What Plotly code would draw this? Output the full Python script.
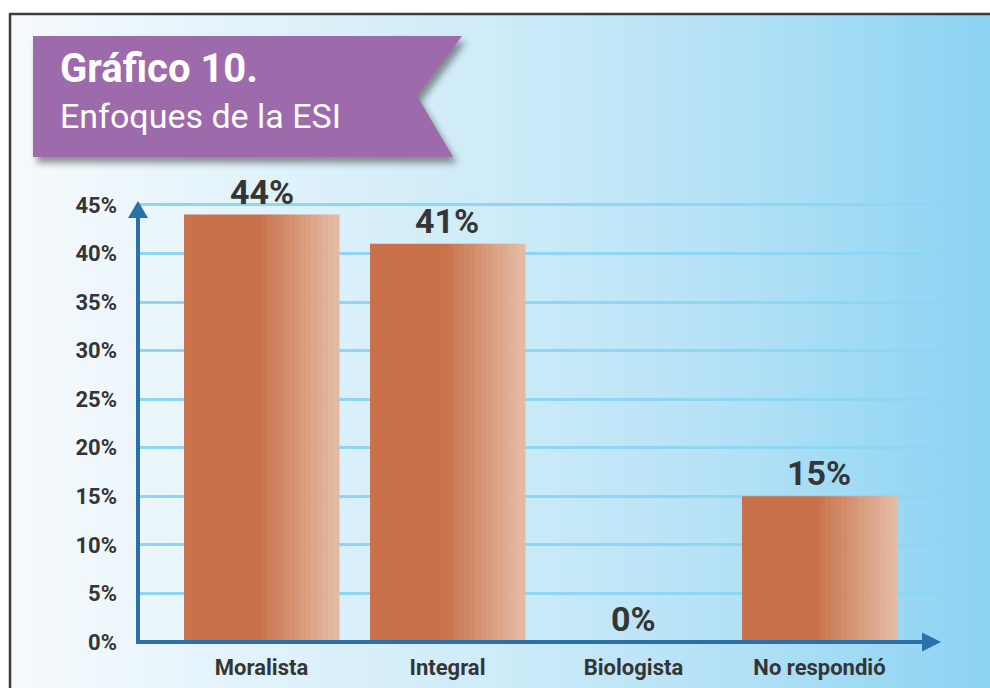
import base64
import plotly.graph_objects as go

# ---- data ----
categories = ["Moralista", "Integral", "Biologista", "No respondió"]
values = [44, 41, 0, 15]
y_ticks = [0, 5, 10, 15, 20, 25, 30, 35, 40, 45]
y_ticktext = [f"{t}%" for t in y_ticks]
title_main = "Gráfico 10."
title_sub = "Enfoques de la ESI"

# ---- geometry (pixels) ----
W, H = 990, 688
ML, MR, MT, MB = 138, 45, 200, 46
PW, PH = W - ML - MR, H - MT - MB


def px(x):
    return (x - ML) / PW


def py(y):
    return (H - MB - y) / PH


AXIS = "#2a70ab"
GRID = "#8fd5f4"
TXT = "#353535"

svg = f"""<svg xmlns='http://www.w3.org/2000/svg' width='{W}' height='{H}' viewBox='0 0 {W} {H}'>
<defs>
<linearGradient id='g' x1='0' y1='0' x2='1' y2='0'>
<stop offset='0' stop-color='#f6fafd'/>
<stop offset='0.5' stop-color='#cdebf8'/>
<stop offset='0.72' stop-color='#b5e2f6'/>
<stop offset='1' stop-color='#8cd3f2'/>
</linearGradient>
<filter id='s' x='-20%' y='-20%' width='140%' height='160%'><feGaussianBlur stdDeviation='3.5'/></filter>
</defs>
<rect x='0' y='0' width='{W}' height='{H}' fill='#ffffff'/>
<rect x='10' y='14' width='{W-10}' height='{H-14}' fill='url(#g)'/>
<line x1='9' y1='14' x2='{W}' y2='14' stroke='#3c3c3c' stroke-width='2.5'/>
<line x1='10' y1='13' x2='10' y2='{H}' stroke='#3c3c3c' stroke-width='2.5'/>
<polygon points='37,42 466,42 421,102 457,163 37,163' fill='#3a3a3a' opacity='0.55' filter='url(#s)'/>
<polygon points='33,36 462,36 417,96 453,157 33,157' fill='#9d6aab'/>
</svg>"""
src = "data:image/svg+xml;base64," + base64.b64encode(svg.encode()).decode()

fig = go.Figure()

# bars with horizontal gradient built from overlaid slices
BW = 0.833
solid_frac = 0.5
fig.add_trace(go.Bar(x=categories, y=values, width=BW * solid_frac + 0.004,
                     offset=-BW / 2, marker=dict(color="#c8714a", line_width=0),
                     hoverinfo="skip", showlegend=False))
c0 = (0xcb, 0x78, 0x51)
c1 = (0xe5, 0xba, 0xa3)
N = 14
sw = BW * (1 - solid_frac) / N
for i in range(N):
    t = i / (N - 1)
    col = tuple(round(a + (b - a) * t) for a, b in zip(c0, c1))
    fig.add_trace(go.Bar(x=categories, y=values, width=sw + 0.003,
                         offset=-BW / 2 + BW * solid_frac + i * sw,
                         marker=dict(color="rgb(%d,%d,%d)" % col, line_width=0),
                         hoverinfo="skip", showlegend=False))

# value labels
for c, v in zip(categories, values):
    fig.add_annotation(x=c, y=v, text=f"{v}%", showarrow=False, yanchor="middle",
                       yshift=23, font=dict(family="Roboto", size=34, color=TXT, weight="bold"))

# title texts
fig.add_annotation(x=px(58), y=py(69), xref="paper", yref="paper", text=title_main,
                   showarrow=False, xanchor="left", yanchor="middle",
                   font=dict(family="Roboto", size=40, color="white", weight="bold"))
fig.add_annotation(x=px(58), y=py(116), xref="paper", yref="paper", text=title_sub,
                   showarrow=False, xanchor="left", yanchor="middle",
                   font=dict(family="Roboto", size=34, color="white"))

# axis lines with arrowheads
shapes = [
    dict(type="line", xref="paper", yref="paper", x0=px(136), x1=px(924), y0=0, y1=0,
         line=dict(color=AXIS, width=4), layer="above"),
    dict(type="path", xref="paper", yref="paper",
         path=f"M {px(922)} {py(632.5)} L {px(941)} {py(642)} L {px(922)} {py(651.5)} Z",
         fillcolor=AXIS, line=dict(width=0), layer="above"),
    dict(type="line", xref="paper", yref="paper", x0=0, x1=0, y0=py(644), y1=py(216),
         line=dict(color=AXIS, width=4), layer="above"),
    dict(type="path", xref="paper", yref="paper",
         path=f"M {px(128)} {py(218)} L {px(138)} {py(201)} L {px(148)} {py(218)} Z",
         fillcolor=AXIS, line=dict(width=0), layer="above"),
]

fig.update_layout(
    width=W, height=H,
    margin=dict(l=ML, r=MR, t=MT, b=MB, pad=0, autoexpand=False),
    paper_bgcolor="white", plot_bgcolor="rgba(0,0,0,0)",
    barmode="overlay", showlegend=False,
    shapes=shapes,
    images=[dict(source=src, xref="paper", yref="paper", x=px(0), y=py(0),
                 sizex=W / PW, sizey=H / PH, xanchor="left", yanchor="top",
                 sizing="stretch", layer="below")],
    xaxis=dict(type="category", range=[-0.664, 3.675], showgrid=False, zeroline=False,
               showline=False, ticks="", ticklabelstandoff=10, automargin=False,
               tickfont=dict(family="Roboto", size=22, color=TXT, weight="bold"),
               fixedrange=True),
    yaxis=dict(range=[0, 45.5], tickvals=y_ticks, ticktext=y_ticktext,
               showgrid=True, gridcolor=GRID, gridwidth=3, zeroline=False,
               showline=False, ticks="", ticklabelstandoff=20, automargin=False,
               tickfont=dict(family="Roboto", size=22, color=TXT, weight="bold"),
               fixedrange=True),
)

fig.write_html(
    "out.html",
    config={"displayModeBar": False},
    post_script="document.body.style.margin='0px';"
                "document.documentElement.style.overflow='hidden';",
)
